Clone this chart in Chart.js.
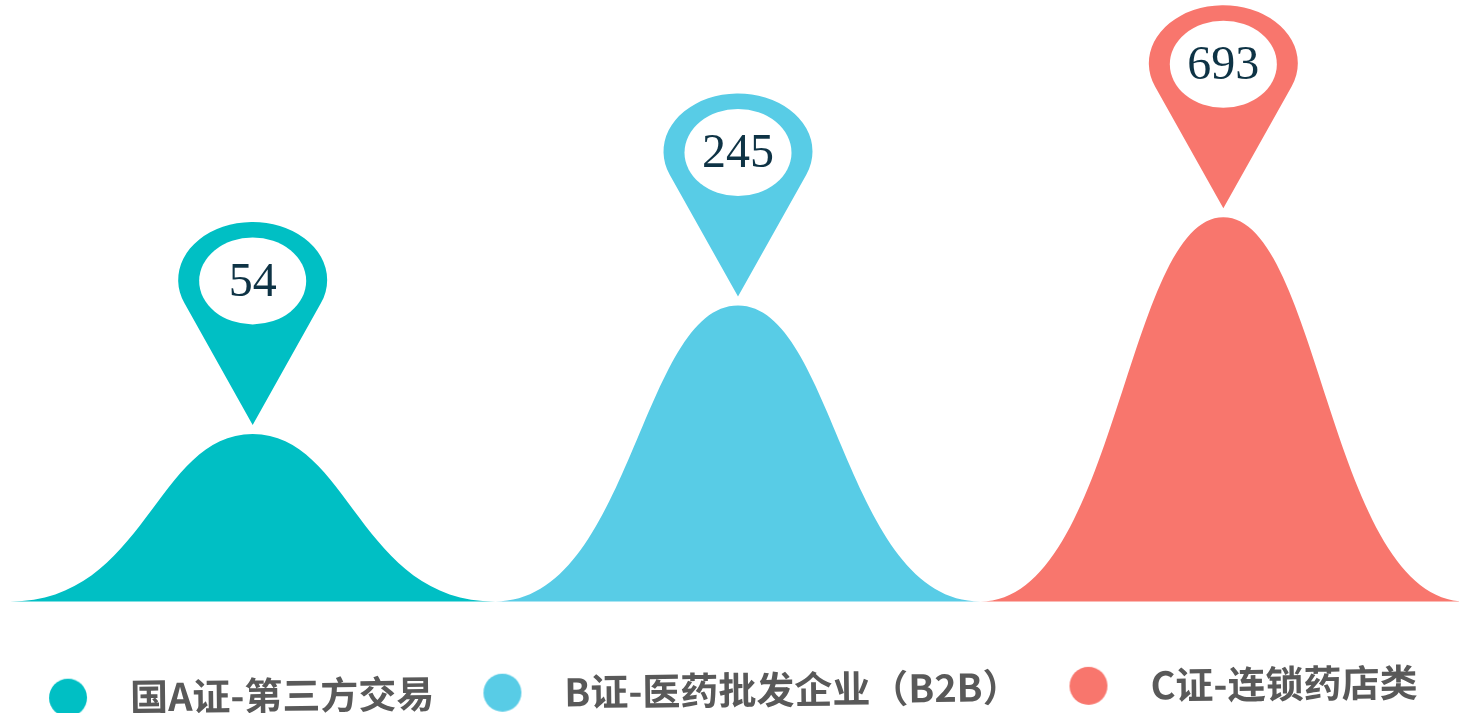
<!DOCTYPE html>
<html>
<head>
<meta charset="utf-8">
<script src="https://cdn.jsdelivr.net/npm/chart.js@4/dist/chart.umd.min.js"></script>
<style>
  html, body { margin: 0; padding: 0; background: #ffffff; overflow: hidden; }
  #wrap { width: 1466px; height: 719px; position: relative; }
</style>
</head>
<body>
<div id="wrap"><canvas id="chart"></canvas></div>
<script>
// Certificate categories and counts
const categories = ['国A证-第三方交易', 'B证-医药批发企业（B2B）', 'C证-连锁药店类'];
const counts = [54, 245, 693];
const colors = ['#00BFC4', '#58CCE6', '#F8766D'];

const labelColor = '#0E3345';
const legendColor = '#595959';

// Round legend markers, drawn once into small canvases
function dotImage(color, d) {
  const c = document.createElement('canvas');
  c.width = d; c.height = d;
  const g = c.getContext('2d');
  g.fillStyle = color;
  g.beginPath();
  g.arc(d / 2, d / 2, d / 2, 0, Math.PI * 2);
  g.fill();
  return c;
}
const dots = colors.map(c => dotImage(c, 38));

// Bell-shaped "mountain" drawn inside each bar's box
const mountainPlugin = {
  id: 'mountains',
  beforeDatasetDraw(chart, args) {
    const ctx = chart.ctx;
    args.meta.data.forEach((el, i) => {
      const p = el.getProps(['x', 'y', 'base', 'width'], true);
      const w = p.width, left = p.x - w / 2, right = p.x + w / 2;
      ctx.save();
      ctx.fillStyle = colors[i];
      ctx.beginPath();
      ctx.moveTo(left, p.base);
      ctx.bezierCurveTo(left + 0.28 * w, p.base, left + 0.30 * w, p.y, p.x, p.y);
      ctx.bezierCurveTo(right - 0.30 * w, p.y, right - 0.28 * w, p.base, right, p.base);
      ctx.closePath();
      ctx.fill();
      ctx.restore();
    });
    return false;
  },
  // Map pins with the value above every peak
  afterDatasetsDraw(chart) {
    const ctx = chart.ctx;
    const meta = chart.getDatasetMeta(0);
    const rx = 74.5, ry = 58, tipDist = 2.5;  // tip distance in head radii
    const s = 1 / tipDist, a = Math.asin(s), tx = Math.cos(a);
    meta.data.forEach((el, i) => {
      const p = el.getProps(['x', 'y'], true);
      const tipY = p.y - 9;
      const cy = tipY - tipDist * ry;
      ctx.save();
      ctx.fillStyle = colors[i];
      ctx.beginPath();
      ctx.moveTo(p.x - tx * rx, cy + s * ry);
      ctx.ellipse(p.x, cy, rx, ry, 0, Math.PI - a, Math.PI * 2 + a);
      ctx.lineTo(p.x, tipY);
      ctx.closePath();
      ctx.fill();
      ctx.fillStyle = '#ffffff';
      ctx.beginPath();
      ctx.ellipse(p.x, cy + 1, 53.5, 43.5, 0, 0, Math.PI * 2);
      ctx.fill();
      ctx.fillStyle = labelColor;
      ctx.font = '48px "Liberation Serif", serif';
      ctx.textAlign = 'center';
      ctx.textBaseline = 'middle';
      ctx.fillText(String(counts[i]), p.x, cy + 3);
      ctx.restore();
    });
  }
};

// The legend row sits on a slight slant
const slantPlugin = {
  id: 'slantLegend',
  beforeDraw(chart) {
    const lg = chart.legend;
    if (!lg || lg._slanted) return;
    const draw = lg.draw;
    lg.draw = function () {
      const ctx = chart.ctx;
      ctx.save();
      ctx.translate(733, 690);
      ctx.rotate(-0.0116);
      ctx.translate(-733, -690);
      draw.apply(this, arguments);
      ctx.restore();
    };
    lg._slanted = true;
  }
};

new Chart(document.getElementById('chart'), {
  type: 'bar',
  data: {
    labels: categories,
    datasets: [{
      data: counts,
      backgroundColor: colors,
      barPercentage: 1,
      categoryPercentage: 1
    }]
  },
  options: {
    responsive: true,
    maintainAspectRatio: false,
    animation: false,
    layout: { padding: { top: 49.5, left: 0, right: 0, bottom: 0 } },
    scales: {
      x: {
        display: true,
        grid: { display: false },
        border: { display: false },
        ticks: { display: false },
        afterFit(scale) { scale.height = 44.5; }
      },
      y: {
        type: 'logarithmic',
        display: true,
        min: 7.5,
        max: 5000,
        bounds: 'data',
        grid: { display: false },
        border: { display: false },
        ticks: { display: false },
        afterFit(scale) { scale.width = 10; }
      }
    },
    plugins: {
      tooltip: { enabled: false },
      legend: {
        position: 'bottom',
        align: 'start',
        labels: {
          usePointStyle: true,
          pointStyleWidth: 86,
          padding: 25,
          color: legendColor,
          font: { family: '"Noto Sans CJK SC", "Noto Sans", sans-serif', size: 38, weight: 'bold' },
          generateLabels(chart) {
            return categories.map((name, i) => ({
              text: name,
              fillStyle: colors[i],
              strokeStyle: colors[i],
              lineWidth: 0,
              fontColor: legendColor,
              pointStyle: dots[i],
              hidden: false,
              index: i,
              datasetIndex: 0
            }));
          }
        },
        onClick() {}
      }
    }
  },
  plugins: [mountainPlugin, slantPlugin]
});
</script>
</body>
</html>
